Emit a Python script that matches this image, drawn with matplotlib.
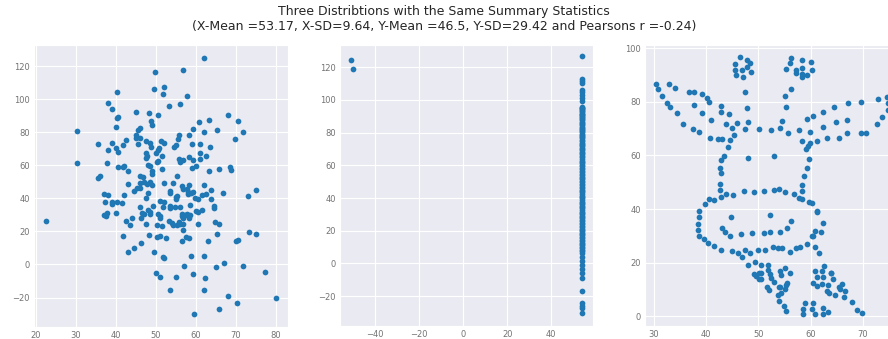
import numpy as np
import matplotlib
matplotlib.use("Agg")
import matplotlib.pyplot as plt
import seaborn as sns

# panel 1: the random cloud
x1 = [62.2, 49.9, 56.8, 40.3, 49.5, 52.1, 51.9, 57.8, 38.1, 53.3, 56.2, 39.1, 45.0, 48.4, 50.7,
      40.7, 40.3, 48.8, 49.0, 40.0, 68.2, 63.4, 60.8, 70.5, 30.4, 46.1, 45.6, 59.3, 65.3, 71.8,
      62.1, 45.2, 45.2, 46.1, 55.9, 58.3, 55.7, 69.8, 35.7, 39.1, 42.7, 41.8, 45.5, 47.6, 48.6,
      51.4, 52.0, 55.1, 54.7, 59.2, 61.1, 38.1, 40.2, 40.7, 48.8, 50.8, 50.7, 47.7, 50.0, 47.8,
      51.5, 63.7, 61.2, 62.7, 47.7, 58.4, 55.9, 56.1, 56.8, 59.4, 61.0, 50.6, 50.3, 30.4, 37.9,
      48.1, 48.5, 40.5, 41.8, 42.1, 51.5, 59.2, 60.0, 65.9, 68.7, 68.9, 43.1, 49.0, 63.3, 36.0,
      35.7, 46.0, 46.8, 49.0, 55.3,
      43.2, 46.1, 47.2, 47.9, 49.2, 48.6, 52.2, 54.4, 56.5, 56.9, 57.8, 58.4, 62.1, 45.3, 46.0,
      44.7, 58.0, 58.8, 58.2, 59.3, 63.8, 62.5, 61.6, 53.6, 53.6, 55.2, 55.1, 59.8, 60.7, 63.8,
      48.2, 37.2, 38.0, 42.2, 66.8, 75.2, 73.2, 37.4, 39.1, 39.2, 40.3, 41.7, 37.2, 37.8, 37.6,
      40.0, 46.0, 48.2, 48.5, 48.5, 49.4, 50.6, 51.0, 51.2, 51.9, 52.2, 51.1, 53.6, 53.7, 54.9,
      55.3, 56.2, 56.6, 56.6, 57.4, 56.9, 57.8, 58.3, 58.5, 58.5, 60.0, 60.7, 61.6, 64.6, 64.6,
      47.0, 46.4, 46.5, 44.2, 42.7, 43.7, 47.5, 50.3, 51.7, 53.3, 54.0, 54.4, 55.3, 55.9, 56.2,
      56.9, 56.9, 57.7, 58.3, 56.6, 60.6, 64.8, 65.9, 65.3, 63.1, 70.2, 70.7, 73.3, 75.0, 22.5,
      41.8, 48.3, 50.3, 51.1, 52.5, 46.3, 44.6, 43.2, 49.5, 51.8, 52.2, 58.8, 62.2, 57.1, 65.0,
      67.1, 71.8, 77.4, 50.2, 51.2, 55.0, 59.3, 62.3, 53.6, 62.1, 68.0, 80.1, 59.7, 65.9, 70.3,
      47.5]
y1 = [125.0, 116.2, 117.4, 104.2, 106.2, 107.4, 102.8, 101.8, 97.4, 96.0, 96.8, 93.8, 92.2, 91.4, 90.2,
      89.2, 88.4, 86.6, 84.2, 83.2, 90.2, 87.4, 86.2, 86.6, 81.0, 82.4, 81.2, 81.8, 81.4, 79.8,
      79.8, 78.2, 76.6, 76.6, 78.0, 78.0, 76.0, 75.6, 72.8, 73.6, 75.2, 72.4, 72.6, 74.8, 73.6,
      74.4, 73.6, 72.2, 70.8, 72.6, 72.8, 69.2, 70.4, 68.2, 70.8, 70.6, 69.2, 67.4, 67.4, 65.6,
      65.8, 70.8, 67.6, 65.6, 64.4, 65.0, 64.0, 62.2, 63.2, 63.4, 63.6, 62.8, 61.8, 61.4, 61.4,
      60.4, 59.6, 59.2, 59.2, 59.6, 58.0, 58.6, 59.4, 58.0, 58.8, 57.4, 56.8, 56.6, 56.4, 53.6,
      52.0, 53.4, 52.6, 54.6, 53.6,
      48.4, 49.2, 49.8, 48.4, 47.8, 50.0, 49.4, 49.4, 47.4, 45.4, 45.6, 48.0, 48.0, 46.0, 46.0,
      44.4, 44.0, 43.2, 42.4, 43.6, 44.8, 42.8, 41.8, 44.4, 43.0, 40.8, 39.8, 40.4, 39.8, 39.6,
      43.2, 42.8, 42.0, 42.2, 43.0, 45.0, 41.6, 37.6, 36.4, 37.6, 37.6, 37.2, 29.8, 31.0, 29.4,
      31.4, 34.8, 33.0, 31.8, 30.4, 35.2, 30.6, 29.2, 28.2, 34.8, 37.8, 38.4, 34.0, 35.6, 34.8,
      41.2, 35.0, 30.4, 29.2, 29.8, 28.4, 30.4, 28.4, 30.0, 36.0, 32.4, 31.8, 32.8, 35.4, 34.4,
      30.4, 28.4, 31.2, 28.0, 26.2, 24.0, 24.2, 23.8, 23.4, 26.0, 25.0, 24.0, 23.8, 25.4, 24.2,
      24.4, 21.0, 16.4, 15.8, 14.4, 24.2, 25.6, 24.4, 18.2, 14.2, 14.2, 14.8, 19.6, 18.4, 26.0,
      17.0, 17.8, 16.8, 17.0, 16.2, 12.8, 10.0, 7.4, 7.6, 4.8, 3.8, 5.2, 5.4, -1.2, -1.6,
      0.8, -1.2, -4.6, -5.2, -7.4, -7.6, -5.6, -8.0, -15.6, -15.6, -18.8, -20.2, -30.0, -27.2, -23.4,
      40.2]

# panel 2: one column plus two outliers
x2_outliers = [-50.9, -50.0]
y2_outliers = [124.6, 119.0]
x2_column = 54.0
y2_column = [126.8, 112.8, 111.4, 110.0, 106.3, 104.8, 103.2, 101.1, 99.1,
             95.8, 95.3, 94.9, 94.1, 93.6, 93.2, 92.5, 91.6, 91.2, 90.8, 90.1, 89.3, 88.7, 88.2,
             87.5, 86.4, 85.7, 85.1, 84.8, 83.6, 82.9, 82.3, 81.7, 80.8, 80.1, 79.2, 78.3, 77.8,
             77.1, 76.4, 75.5, 74.6, 73.8, 73.2, 72.7, 71.9, 70.8, 70.2, 69.1, 68.3, 67.4, 66.6,
             65.5, 64.8, 63.7, 62.9, 61.8, 61.2, 60.3, 59.4, 58.6, 57.5, 56.8, 55.9, 54.7, 53.8,
             53.1, 52.2, 51.4, 50.5, 49.6, 48.8, 47.7, 46.9, 46.1, 45.2, 44.3, 43.4, 42.6, 41.5,
             40.8, 39.9, 38.7, 37.8, 37.1, 36.2, 35.4, 34.3, 33.6, 32.8, 31.7, 30.9, 30.2, 29.3,
             28.4, 27.6, 26.5, 25.8, 24.9, 24.1, 23.2, 22.4, 21.3, 20.6, 19.8, 18.7, 17.9, 17.1,
             16.2, 15.3, 14.5, 13.6, 12.8, 11.9, 11.1, 10.2, 9.4, 8.5, 7.6, 6.7,
             3.9, 1.4, -1.0, -3.1, -5.8, -8.8, -17.1, -24.3, -25.7, -27.3, -30.4]

# panel 3: the dinosaur
x3 = [30.4, 30.8, 31.6, 32.6, 33.1, 34.4, 32.8, 34.1, 36.7, 37.7, 37.7, 35.6, 37.4, 38.6, 39.3,
      40.2, 40.6, 39.3, 41.0, 40.7, 42.3, 43.1, 44.6, 45.4, 44.9, 43.8, 45.9, 42.9, 42.9, 44.3,
      47.5, 48.0, 47.8, 47.5, 47.1, 45.7, 45.5, 45.6, 46.4, 46.9, 47.9, 48.4, 47.9, 48.5, 50.2,
      56.2, 56.1, 55.2, 57.1, 57.1, 58.3, 60.0, 58.3, 60.3, 58.3, 58.3, 59.3, 56.2, 55.0, 55.2,
      54.6, 54.2, 52.5, 55.7, 57.8, 59.8, 58.3, 59.8, 61.3, 63.1, 65.5, 67.0, 69.6, 70.6, 59.3,
      60.5, 62.4, 64.4, 67.2, 69.6, 62.4, 64.9, 66.9, 72.9, 74.6, 74.8, 74.8, 73.6, 72.7,
      44.1, 43.4, 42.9, 48.0, 42.7, 42.9, 42.7, 42.7, 42.9, 43.8, 45.2, 47.3, 49.2, 40.6, 41.5,
      39.8, 38.6, 38.6, 38.4, 38.4, 38.7, 39.5, 40.3, 41.5, 44.8, 43.0, 43.6, 44.6, 46.7, 48.7,
      59.4, 59.2, 53.0, 59.6, 59.3, 58.8, 58.3, 58.3, 51.1, 53.0, 53.9, 55.0, 56.9, 57.8, 58.3,
      59.6, 60.3, 61.3, 61.3, 52.3, 56.2, 62.4, 55.4, 51.1, 52.3, 54.2, 60.8, 61.9, 60.2, 60.5,
      59.3,
      42.9, 44.9, 46.1, 46.9, 47.5, 48.4, 48.0, 49.4, 50.0, 49.2, 49.6, 50.2, 50.2,
      51.3, 52.8, 53.7, 54.6, 56.0, 57.1, 58.0, 60.8, 61.6, 50.5, 51.8, 50.5, 51.9, 52.3, 50.5,
      52.4, 53.0, 51.7, 52.0, 54.1, 54.4, 55.0, 56.0, 55.5, 55.2, 55.0, 54.3, 53.8, 53.9, 54.1,
      53.9, 54.9, 55.2, 60.8, 62.1, 62.6, 61.2, 62.4, 63.8, 63.9, 64.2, 60.5, 61.3, 62.1, 63.3,
      63.1, 63.6, 64.7, 66.0, 65.4, 65.7, 66.5, 66.3, 68.0, 68.8, 69.8, 59.0, 58.5, 58.5, 60.5,
      60.2, 60.8, 62.3, 62.3, 63.4]
y3 = [86.8, 84.8, 82.2, 79.6, 78.2, 75.7, 86.8, 85.3, 83.8, 83.8, 79.0, 71.8, 69.8, 68.9, 82.8,
      81.5, 80.0, 75.9, 73.2, 66.4, 66.0, 66.0, 65.8, 67.5, 70.1, 71.8, 72.2, 78.4, 76.3, 75.4,
      69.8, 72.5, 77.6, 83.8, 89.4, 90.0, 91.9, 94.3, 96.6, 91.9, 95.6, 94.4, 93.1, 91.3, 69.8,
      96.3, 94.4, 92.3, 91.9, 90.7, 95.6, 94.9, 92.6, 91.8, 90.2, 89.4, 89.9, 84.8, 82.2, 78.1,
      73.0, 70.3, 69.5, 68.4, 69.5, 68.7, 65.3, 64.6, 65.3, 66.4, 66.4, 68.4, 68.4, 68.4, 73.7,
      74.9, 76.3, 78.0, 79.5, 80.0, 70.7, 72.5, 73.2, 81.0, 81.9, 79.5, 76.9, 74.4, 71.9,
      63.2, 59.9, 58.4, 59.2, 55.3, 53.4, 49.4, 47.0, 44.6, 45.6, 45.4, 46.9, 46.4, 43.7, 43.3,
      41.8, 39.4, 36.9, 34.4, 32.2, 30.1, 28.7, 27.5, 26.4, 36.9, 33.1, 31.5, 30.0, 30.6, 31.1,
      63.5, 62.4, 59.9, 58.7, 55.2, 52.5, 48.9, 46.8, 46.9, 47.0, 47.5, 46.3, 45.7, 44.1, 43.8,
      42.8, 42.3, 39.4, 38.9, 37.9, 35.7, 34.8, 32.9, 31.1, 31.3, 31.3, 31.7, 31.3, 29.8, 30.0,
      27.0,
      24.9, 24.5, 23.6, 22.1, 24.6, 23.6, 19.0, 20.3, 24.6, 15.7, 15.1, 16.0, 13.8,
      24.6, 25.7, 25.5, 25.6, 24.1, 25.5, 26.0, 25.7, 23.6, 19.0, 19.0, 16.2, 17.2, 15.9, 13.9,
      14.4, 12.9, 11.0, 9.7, 17.0, 15.5, 18.0, 16.0, 12.4, 11.6, 10.3, 8.8, 8.1, 11.0, 11.0,
      5.7, 3.8, 2.1, 16.8, 16.8, 18.9, 14.7, 14.7, 16.0, 16.0, 14.0, 12.3, 11.3, 11.9, 11.7,
      9.4, 8.6, 8.0, 11.9, 10.8, 10.1, 9.6, 7.2, 5.2, 2.4, 1.1, 4.8, 2.7, 0.9, 4.8,
      2.6, 0.9, 3.0, 0.9, 1.6]

title = ("Three Distribtions with the Same Summary Statistics\n"
         "(X-Mean =53.17, X-SD=9.64, Y-Mean =46.5, Y-SD=29.42 and Pearsons r =-0.24)")

sns.set_style("darkgrid")
plt.rcParams['font.family'] = ['DejaVu Sans']

fig = plt.figure(figsize=(8.88, 3.39), dpi=100)

# third panel runs past the right edge, as in the original crop
ax1 = fig.add_axes([34 / 888, 12 / 339, 254 / 888, 282 / 339])
ax2 = fig.add_axes([340 / 888, 13 / 339, 253 / 888, 281 / 339])
ax3 = fig.add_axes([645 / 888, 13 / 339, 254 / 888, 281 / 339])

dot = dict(s=17, color='#1f77b4', linewidth=0)

ax1.scatter(x1, y1, **dot)
ax1.set_xlim(19.6, 83.1)
ax1.set_ylim(-37.8, 132.7)
ax1.set_xticks(range(20, 81, 10))
ax1.set_yticks(range(-20, 121, 20))

ax2.scatter(np.full(len(y2_column), x2_column), y2_column, **dot)
ax2.scatter(x2_outliers, y2_outliers, **dot)
ax2.set_xlim(-55.8, 58.9)
ax2.set_ylim(-38.2, 133.5)
ax2.set_xticks(range(-40, 41, 20))
ax2.set_yticks(range(-20, 121, 20))

ax3.scatter(x3, y3, **dot)
ax3.set_xlim(28.3, 76.9)
ax3.set_ylim(-3.6, 101.2)
ax3.set_xticks(range(30, 80, 10))
ax3.set_yticks(range(0, 101, 20))

for ax in (ax1, ax2, ax3):
    ax.tick_params(labelsize=6, colors='0.45', length=0, pad=3)
    ax.grid(color='white', linewidth=0.8)

fig.suptitle(title, fontsize=9, y=0.985, va='top')

fig.savefig("out.png", dpi=100)
